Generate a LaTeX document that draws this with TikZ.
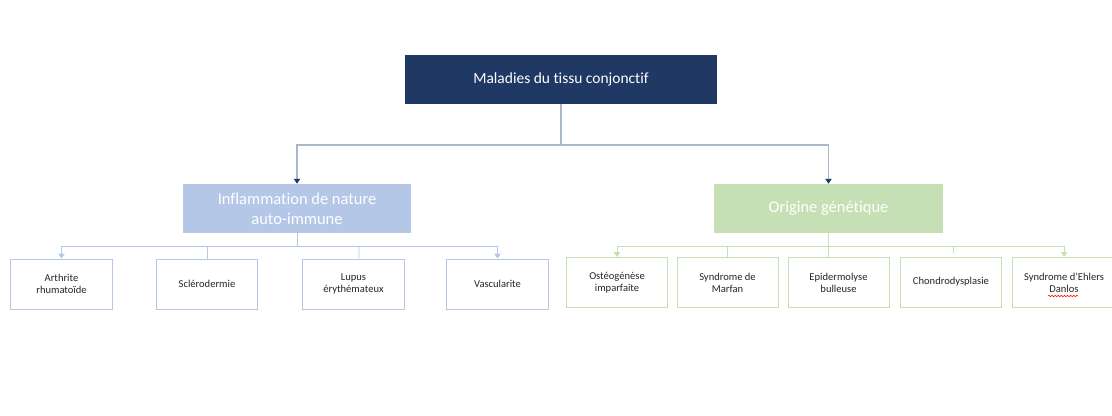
\documentclass[tikz,border=0pt]{standalone}
\usepackage{fontspec}
\setmainfont{Carlito}[Ligatures=NoCommon]
\usetikzlibrary{arrows.meta,decorations.pathmorphing}
\definecolor{navy}{HTML}{203864}
\definecolor{bleu}{HTML}{B4C7E7}
\definecolor{vert}{HTML}{C5E0B4}
\definecolor{gris}{HTML}{A9B6CB}
\tikzset{
	racine/.style={fill=navy,text=white,minimum width=7.8cm,minimum height=1.225cm,font=\fontsize{11}{13}\selectfont},
	famille/.style={text=white,minimum width=5.7cm,minimum height=1.225cm,align=center,font=\fontsize{11.7}{14.2}\selectfont},
	feuille/.style={draw,line width=.7pt,fill=white,text=black!85,minimum width=2.525cm,minimum height=1.25cm,align=center,font=\fontsize{7.5}{8.6}\selectfont},
	fleche/.style={-{Triangle[width=4.5pt,length=3.5pt]}}
}
\begin{document}
\begin{tikzpicture}[x=0.025cm,y=-0.025cm]
	\useasboundingbox (0,0) rectangle (1112,415);
	\node[racine] (mal) at (561,79.5) {Maladies du tissu conjonctif};
	\node[famille,fill=bleu] (infl) at (297,208.5) {Inflammation de nature\\auto-immune};
	\node[famille,fill=vert] (gen) at (828.5,208.5) {Origine génétique};
	\node[feuille,draw=bleu] (arth) at (61.5,284) {Arthrite\\rhumatoïde};
	\node[feuille,draw=bleu] (scle) at (207,284) {Sclérodermie};
	\node[feuille,draw=bleu] (lup) at (353.5,284) {Lupus\\érythémateux};
	\node[feuille,draw=bleu] (vasc) at (497.5,284) {Vascularite};
	\node[feuille,draw=vert] (osteo) at (617,282.5) {Ostéogénèse\\imparfaite};
	\node[feuille,draw=vert] (marf) at (727.5,282.5) {Syndrome de\\Marfan};
	\node[feuille,draw=vert] (epid) at (838.5,282.5) {Epidermolyse\\bulleuse};
	\node[feuille,draw=vert] (chon) at (951,282) {Chondrodysplasie};
	\node[feuille,draw=vert,minimum width=2.6cm] (ehl) at (1064,282.5) {Syndrome d’Ehlers\\Danlos};
	\draw[red,decorate,decoration={snake,amplitude=.5pt,segment length=2.2pt}] (1048,296) -- (1078,296);
	\coordinate (haut) at (561,145);
	\coordinate (gauche) at (297,246);
	\coordinate (droite) at (829,246);
	\draw[gris,line width=.8pt] (mal.south) -- (haut);
	\draw[gris,line width=.8pt,-{Triangle[width=4.5pt,length=3.5pt,color=navy]}] (haut) -| (infl.north);
	\draw[gris,line width=.8pt,-{Triangle[width=4.5pt,length=3.5pt,color=navy]}] (haut) -| (gen.north);
	\draw[bleu,line width=.7pt] (infl.south) -- (gauche);
	\draw[bleu,line width=.7pt,fleche] (gauche) -| (arth.north);
	\draw[bleu,line width=.7pt,fleche] (gauche) -| (vasc.north);
	\draw[bleu,line width=.7pt] (gauche -| scle.north) -- (scle.north);
	\draw[bleu,line width=.7pt] (gauche -| lup.north) ++(5.5,0) -- ([xshift=0.1375cm]lup.north);
	\draw[vert,line width=.7pt] (gen.south) -- (gen.south |- epid.north);
	\draw[vert,line width=.7pt,fleche] (droite) -| (osteo.north);
	\draw[vert,line width=.7pt,fleche] (droite) -| (ehl.north);
	\draw[vert,line width=.7pt] (droite -| marf.north) -- (marf.north);
	\draw[vert,line width=.7pt] (droite -| chon.north) ++(2,0) -- ++(0,7);
\end{tikzpicture}
\end{document}
